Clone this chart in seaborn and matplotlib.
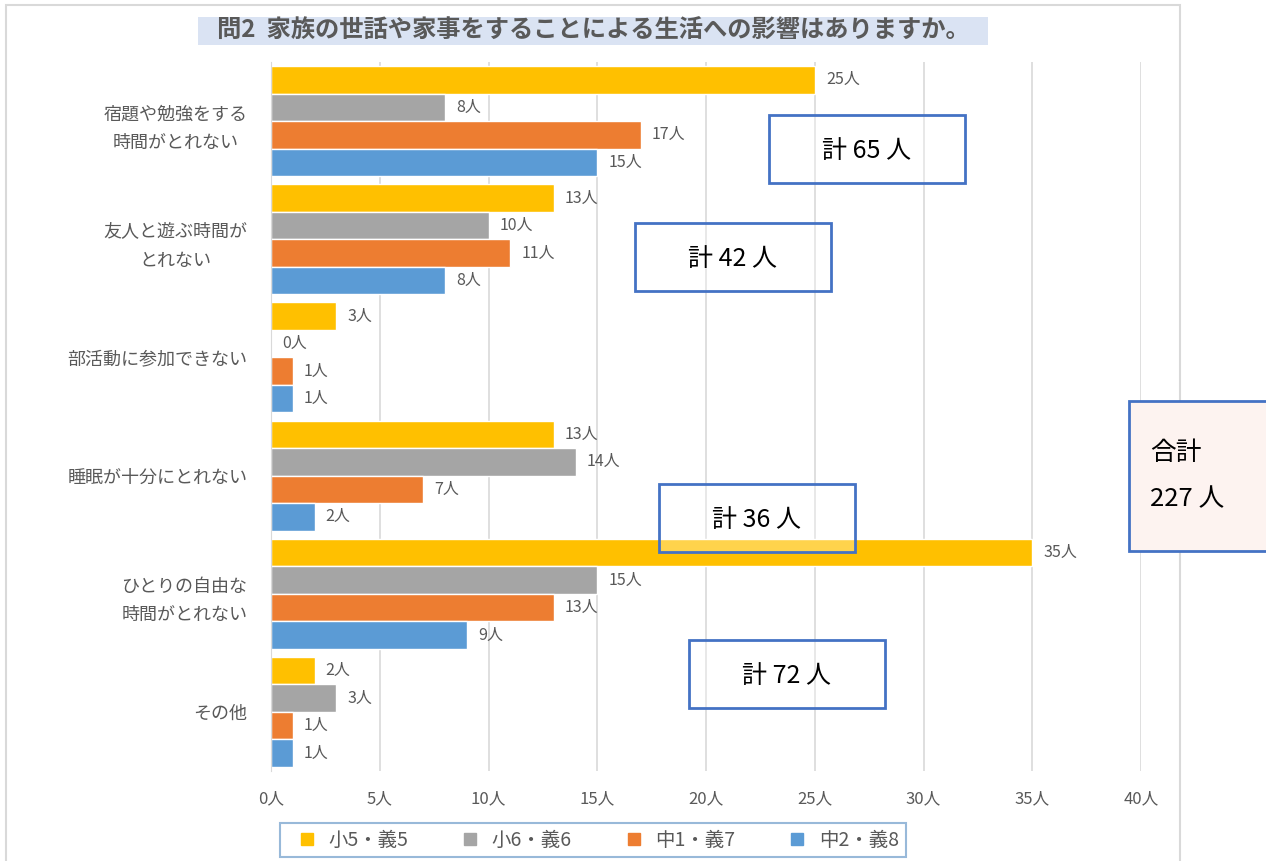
import pandas as pd
import matplotlib.pyplot as plt
import seaborn as sns
from matplotlib.patches import Rectangle
from matplotlib.lines import Line2D

# data
categories = ["宿題や勉強をする\n時間がとれない", "友人と遊ぶ時間が\nとれない", "部活動に参加できない",
              "睡眠が十分にとれない", "ひとりの自由な\n時間がとれない", "その他"]
grades = ["小5・義5", "小6・義6", "中1・義7", "中2・義8"]
grade5 = [25, 13, 3, 13, 35, 2]
grade6 = [8, 10, 0, 14, 15, 3]
grade7 = [17, 11, 1, 7, 13, 1]
grade8 = [15, 8, 1, 2, 9, 1]
colors = ["#ffc000", "#a5a5a5", "#ed7d31", "#5b9bd5"]

group_totals = ["計 65 人", "計 42 人", "計 36 人", "計 72 人"]
grand_total = "合計\n227 人"

rows = []
for g, vals in zip(grades, [grade5, grade6, grade7, grade8]):
    for c, v in zip(categories, vals):
        rows.append({"category": c, "grade": g, "count": v})
df = pd.DataFrame(rows)

sns.set_style("white")
plt.rcParams["font.family"] = ["Noto Sans CJK JP", "DejaVu Sans"]

W, H = 1266, 861
fig = plt.figure(figsize=(12.66, 8.61), dpi=100)
ax = fig.add_axes([271 / W, 1 - 771 / H, 870 / W, 709 / H])

sns.barplot(data=df, y="category", x="count", hue="grade", orient="h",
            palette=colors, width=0.93, ax=ax, legend=False, saturation=1)

for cont in ax.containers:
    ax.bar_label(cont, labels=[f"{int(v)}人" for v in cont.datavalues],
                 padding=8, fontsize=11.5, color="#595959")

ax.set_xlim(0, 40)
ax.set_ylim(5.5, -0.5)
ax.set_xticks(range(0, 41, 5))
ax.set_xticklabels([f"{t}人" for t in range(0, 41, 5)], fontsize=12, color="#595959")
ax.tick_params(axis="x", length=0, pad=14)
ax.tick_params(axis="y", length=0, pad=17)
for lab in ax.get_yticklabels():
    lab.set_fontsize(13)
    lab.set_color("#595959")
    lab.set_multialignment("center")
    lab.set_linespacing(1.75)
ax.set_xlabel("")
ax.set_ylabel("")
ax.xaxis.grid(True, color="#d9d9d9", linewidth=1.2)
ax.set_axisbelow(True)
for s in ["top", "right", "bottom"]:
    ax.spines[s].set_visible(False)
ax.spines["left"].set_color("#d9d9d9")

# chart border
fig.patches.append(Rectangle((6 / W, -0.01), 1174 / W, 1 - 5 / H + 0.01, transform=fig.transFigure,
                             fill=False, edgecolor="#d9d9d9", linewidth=1.5, zorder=0))

# title
fig.patches.append(Rectangle((198 / W, 1 - 45 / H), 790 / W, 28 / H, transform=fig.transFigure,
                             facecolor="#dae3f3", edgecolor="none", zorder=1))
fig.text(593 / W, 1 - 31 / H, "問2  家族の世話や家事をすることによる生活への影響はありますか。",
         ha="center", va="center", fontsize=17.5, fontweight="bold", color="#595959", zorder=2)

# total boxes (pixel positions of the callouts)
boxes = [(769, 115), (635, 223), (659, 484), (689, 640)]
for (x0, y0), txt in zip(boxes, group_totals):
    fig.patches.append(Rectangle((x0 / W, 1 - (y0 + 68) / H), 196 / W, 68 / H,
                                 transform=fig.transFigure, facecolor=(1, 1, 1, 0.3),
                                 edgecolor="#4472c4", linewidth=2, zorder=5))
    fig.text((x0 + 98) / W, 1 - (y0 + 36) / H, txt, ha="center", va="center",
             fontsize=18, color="black", zorder=6)

fig.patches.append(Rectangle((1129 / W, 1 - 551 / H), 150 / W, 150 / H,
                             transform=fig.transFigure, facecolor="#fdf3f0",
                             edgecolor="#4472c4", linewidth=2, zorder=5))
fig.text(1150 / W, 1 - 476 / H, grand_total, ha="left", va="center",
         fontsize=18.5, color="black", linespacing=2.0, zorder=6)

# legend
handles = [Line2D([], [], marker="s", linestyle="none", markersize=9, color=c) for c in colors]
leg = fig.legend(handles, grades, loc="center", bbox_to_anchor=(593 / W, 1 - 840 / H),
                 ncol=4, fontsize=14, frameon=True, fancybox=False, handletextpad=0.1,
                 columnspacing=2.2, borderpad=0.35, borderaxespad=0, labelcolor="#595959")
leg.get_frame().set_edgecolor("#7fa8d0")
leg.get_frame().set_linewidth(1.5)

fig.savefig("out.png", dpi=100)
